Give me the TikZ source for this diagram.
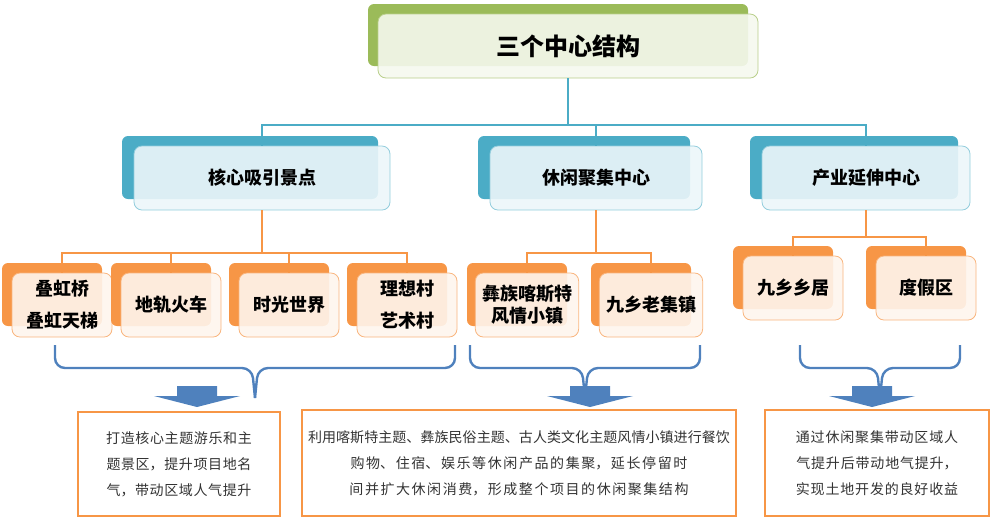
\documentclass[tikz,border=0pt]{standalone}
\usepackage{fontspec}
\setmainfont{Noto Sans CJK SC}
\XeTeXlinebreaklocale "zh"
\XeTeXlinebreakskip=0pt plus 0.5pt
\usetikzlibrary{positioning}
\definecolor{topgreen}{RGB}{155,187,89}
\definecolor{topfill}{RGB}{245,248,238}
\definecolor{midblue}{RGB}{75,172,198}
\definecolor{midfill}{RGB}{236,246,249}
\definecolor{leaforange}{RGB}{247,150,70}
\definecolor{leaffill}{RGB}{254,245,237}
\definecolor{bracebl}{RGB}{79,129,189}
\tikzset{
  back/.style={rounded corners=3pt},
  front/.style={draw,rounded corners=4pt,fill opacity=0.9,text opacity=1,font=\small\bfseries},
  note/.style={draw=leaforange,thick,fill=white,align=center,inner sep=2pt,font=\fontsize{7}{13}\selectfont,text=black!80},
  link/.style={line width=0.6pt},
  brace/.style={bracebl,line width=1.2pt,rounded corners=5pt}
}
\begin{document}
\begin{tikzpicture}[x=0.5pt,y=-0.5pt]
  \useasboundingbox (0,0) rectangle (1000,527);
  % top level
  \fill[back,topgreen] (368,4) rectangle (748,66);
  \node[front,draw=topgreen!70,fill=topfill,minimum width=190pt,minimum height=32pt,font=\large\bfseries] (top) at (568,46) {三个中心结构};
  % second level
  \foreach \n/\x/\w/\t in {core/262/128/核心吸引景点, leisure/596/106/休闲聚集中心, industry/866/104/产业延伸中心}{
    \fill[back,midblue] (\x-\w-12,136) rectangle (\x+\w-12,199);
    \node[front,draw=midblue!60,fill=midfill,minimum width=\w pt,minimum height=32pt] (\n) at (\x,178) {\t};
  }
  \coordinate (tj) at (568,125);
  \draw[link,midblue] (top.south) -- (tj);
  \foreach \n in {core,leisure,industry}{
    \draw[link,midblue] (tj) -| (\n.north);
  }
  % leaves
  \foreach \n/\x/\y/\t in {l1/62/305/{叠虹桥\\[5pt]叠虹天梯}, l2/171/305/地轨火车, l3/289/305/时光世界, l4/407/305/{理想村\\[5pt]艺术村},
      l5/527/305/{彝族喀斯特\\风情小镇}, l6/651/305/九乡老集镇, l7/793/288/九乡乡居, l8/926/288/度假区}{
    \fill[back,leaforange] (\x-60,\y-42) rectangle (\x+40,\y+21);
    \node[front,draw=leaforange!70,fill=leaffill,minimum width=50pt,minimum height=32pt,align=center] (\n) at (\x,\y) {\t};
  }
  \coordinate (cj) at (262,253);
  \draw[link,leaforange] (core.south) -- (cj);
  \foreach \n in {l1,l2,l3,l4}{\draw[link,leaforange] (cj) -| (\n.north);}
  \coordinate (lj) at (596,253);
  \draw[link,leaforange] (leisure.south) -- (lj);
  \foreach \n in {l5,l6}{\draw[link,leaforange] (lj) -| (\n.north);}
  \coordinate (ij) at (866,237);
  \draw[link,leaforange] (industry.south) -- (ij);
  \foreach \n in {l7,l8}{\draw[link,leaforange] (ij) -| (\n.north);}
  % braces
  \foreach \a/\b/\m in {55/455/255, 470/700/585, 800/960/880}{
    \draw[brace] (\a,345) -- (\a,368) -- (\m-3,368) -- (\m,398);
    \draw[brace] (\b,345) -- (\b,368) -- (\m+3,368) -- (\m,398);
  }
  % arrows
  \foreach \x in {197, 590, 872}{
    \fill[bracebl] (\x-20,386) -- (\x+20,386) -- (\x+20,396) -- (\x+43,396)
      -- (\x,407) -- (\x-43,396) -- (\x-20,396) -- cycle;
  }
  % notes
  \node[note,text width=90pt,minimum width=101pt,minimum height=52pt] (n1) at (179,464) {打造核心主题游乐和主题景区，提升项目地名气，带动区域人气提升};
  \node[note,text width=213pt,minimum width=217pt,minimum height=53pt] (n2) at (519,463) {利用喀斯特主题、彝族民俗主题、古人类文化主题风情小镇进行餐饮\\购物、住宿、娱乐等休闲产品的集聚，延长停留时间并扩大休闲消费，形成整个项目的休闲聚集结构};
  \node[note,text width=104pt,minimum width=112pt,minimum height=53pt] (n3) at (877,463) {通过休闲聚集带动区域人气提升后带动地气提升，实现土地开发的良好收益};
\end{tikzpicture}
\end{document}
